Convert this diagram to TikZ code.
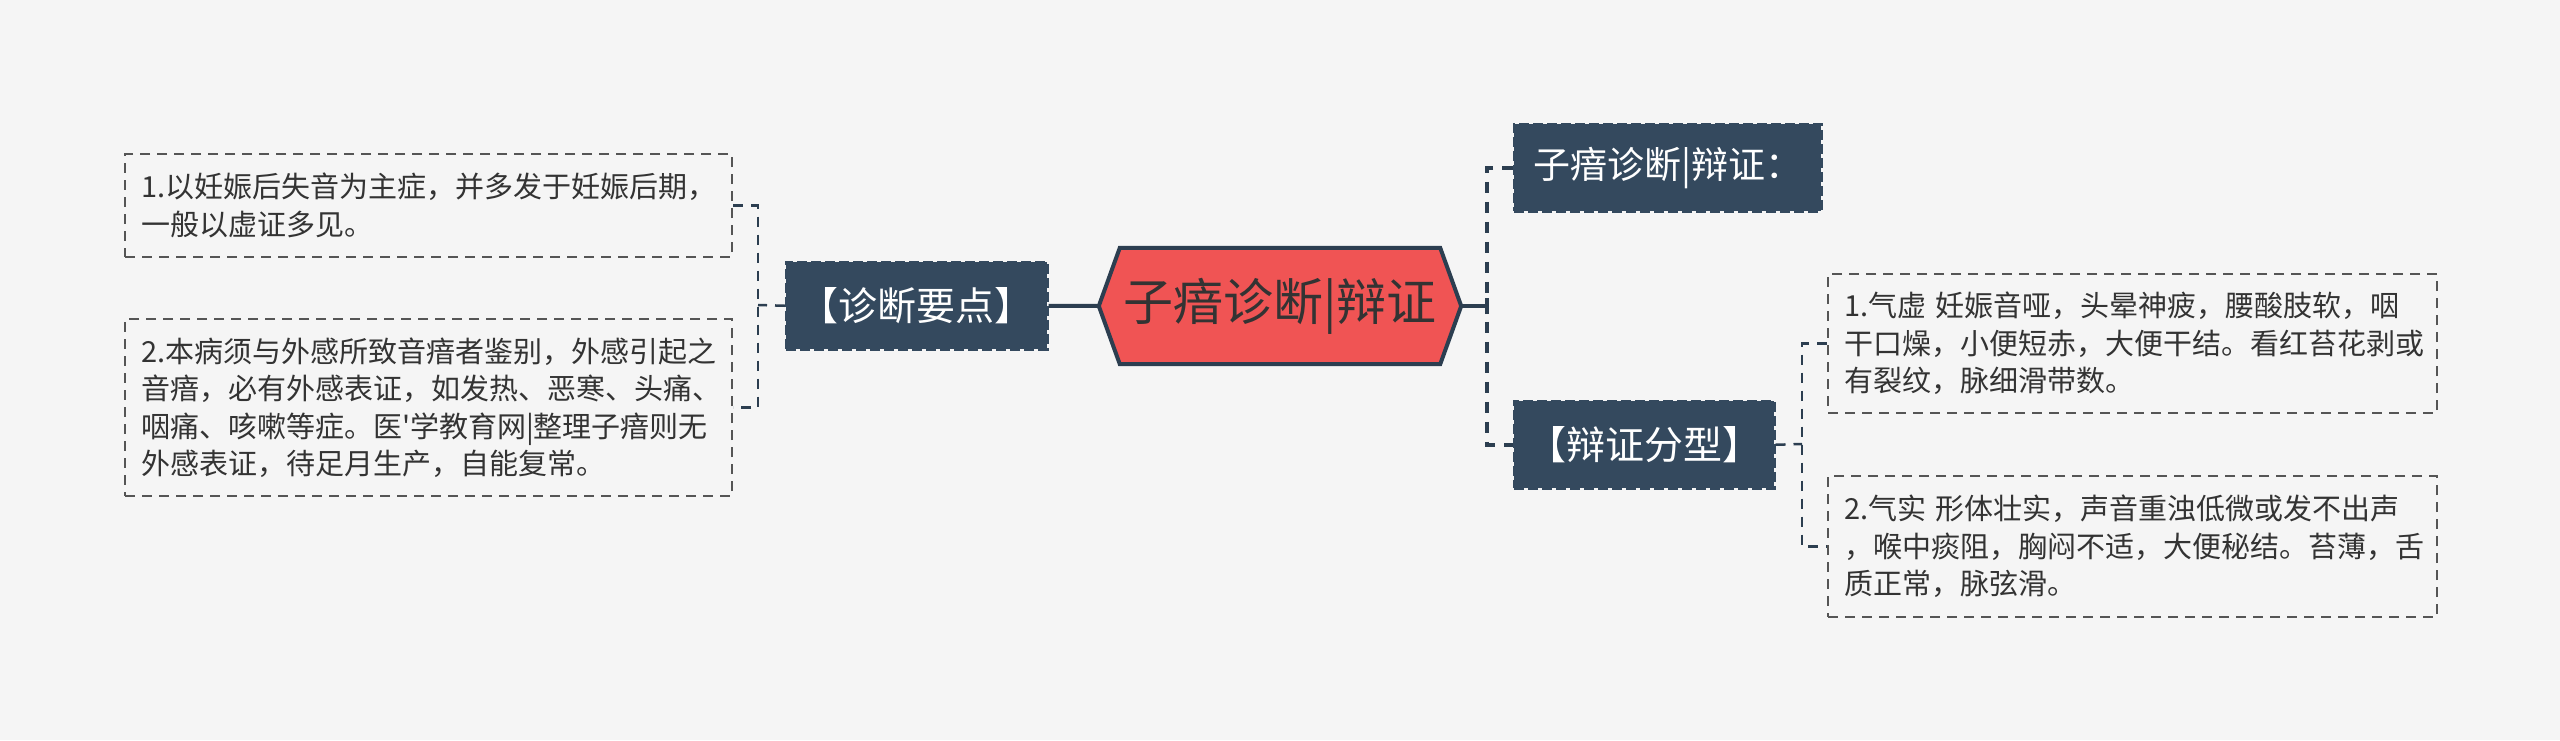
\documentclass[tikz,border=0pt]{standalone}
\usepackage{fontspec}
\newfontfamily\cjk{Noto Sans CJK SC}
\usetikzlibrary{calc,backgrounds}
\definecolor{bgc}{HTML}{F5F5F5}
\definecolor{dk}{HTML}{34495E}
\definecolor{ln}{HTML}{2C3E50}
\definecolor{rd}{HTML}{F05454}
\definecolor{tx}{HTML}{333333}
\definecolor{lf}{HTML}{555555}
\begin{document}
\begin{tikzpicture}[x=1pt,y=-1pt,
  leaf/.style={draw=lf, line width=2pt, dash pattern=on 10pt off 7pt, inner xsep=16pt, inner ysep=0pt,
    align=left, text=tx, font=\cjk\fontsize{29}{37.5}\selectfont, anchor=north west},
  dnode/.style={fill=dk, draw=dk, line width=2.5pt, dash pattern=on 10pt off 4pt,
    preaction={draw=bgc, solid, line width=2.5pt}, text=white,
    font=\cjk\fontsize{39}{42}\selectfont, inner sep=0pt, anchor=north west},
  mainln/.style={draw=ln, line width=4pt},
  vdash/.style={draw=ln, line width=4pt, dash pattern=on 11pt off 9pt},
  bdash/.style={draw=ln, line width=2.5pt, dash pattern=on 10pt off 8pt}]
\useasboundingbox (0,0) rectangle (2560,740);

% leaves left
\node[leaf, text width=575pt, minimum height=103pt] (l1) at (124,153)
  {1.以妊娠后失音为主症，并多发于妊娠后期，\\一般以虚证多见。};
\node[leaf, text width=575pt, minimum height=177pt] (l2) at (124,318)
  {2.本病须与外感所致音瘖者鉴别，外感引起之\\音瘖，必有外感表证，如发热、恶寒、头痛、\\咽痛、咳嗽等症。医\textquotesingle 学教育网|整理子瘖则无\\外感表证，待足月生产，自能复常。};

% leaves right
\node[leaf, text width=577pt, minimum height=139pt] (r1) at (1827,273)
  {1.气虚 妊娠音哑，头晕神疲，腰酸肢软，咽\\干口燥，小便短赤，大便干结。看红苔花剥或\\有裂纹，脉细滑带数。};
\node[leaf, text width=577pt, minimum height=141pt] (r2) at (1827,475)
  {2.气实 形体壮实，声音重浊低微或发不出声\\，喉中痰阻，胸闷不适，大便秘结。苔薄，舌\\质正常，脉弦滑。};

% dark nodes
\node[dnode, minimum width=261pt, minimum height=87pt] (d1) at (785,261) {【诊断要点】};
\node[dnode, minimum width=307pt, minimum height=87pt, font=\cjk\fontsize{37}{40}\selectfont] (d2) at (1513,123) {子瘖诊断|辩证：};
\node[dnode, minimum width=260pt, minimum height=87pt] (d3) at (1513,400) {【辩证分型】};

% main node
\node[font=\cjk\fontsize{50}{54}\selectfont, text=tx, minimum width=320pt, minimum height=116pt, inner sep=0pt]
  (main) at (1280,306) {子瘖诊断|辩证};
\coordinate (mL) at ([xshift=-21pt]main.west);
\coordinate (mR) at ([xshift=21pt]main.east);

\begin{pgfonlayer}{background}
  \fill[bgc] (0,0) rectangle (2560,740);
  \draw[fill=rd, draw=ln, line width=4pt, line join=miter]
    (main.north west) -- (main.north east) -- (mR) -- (main.south east)
    -- (main.south west) -- (mL) -- cycle;
\end{pgfonlayer}

% connectors
\draw[mainln] (mL) -- (d1.east);
\coordinate (jR) at (1487,306);
\draw[mainln] (mR) -- (jR);
\draw[ln, line width=3.5pt] ([yshift=-8pt]jR) -- ([yshift=8pt]jR);
\draw[vdash] (d2.west) -- (d2.west -| jR) -- (d3.west -| jR) -- (d3.west);

\coordinate (jL) at (758,305);
\draw[bdash] (d1.west) -- (jL);
\draw[bdash] (l1.east) -- (l1.east -| jL) -- (l2.east -| jL) -- (l2.east);

\coordinate (jR2) at (1802,444);
\draw[bdash] (d3.east) -- (jR2);
\draw[bdash] (r1.west) -- (r1.west -| jR2) -- (r2.west -| jR2) -- (r2.west);
\end{tikzpicture}
\end{document}
